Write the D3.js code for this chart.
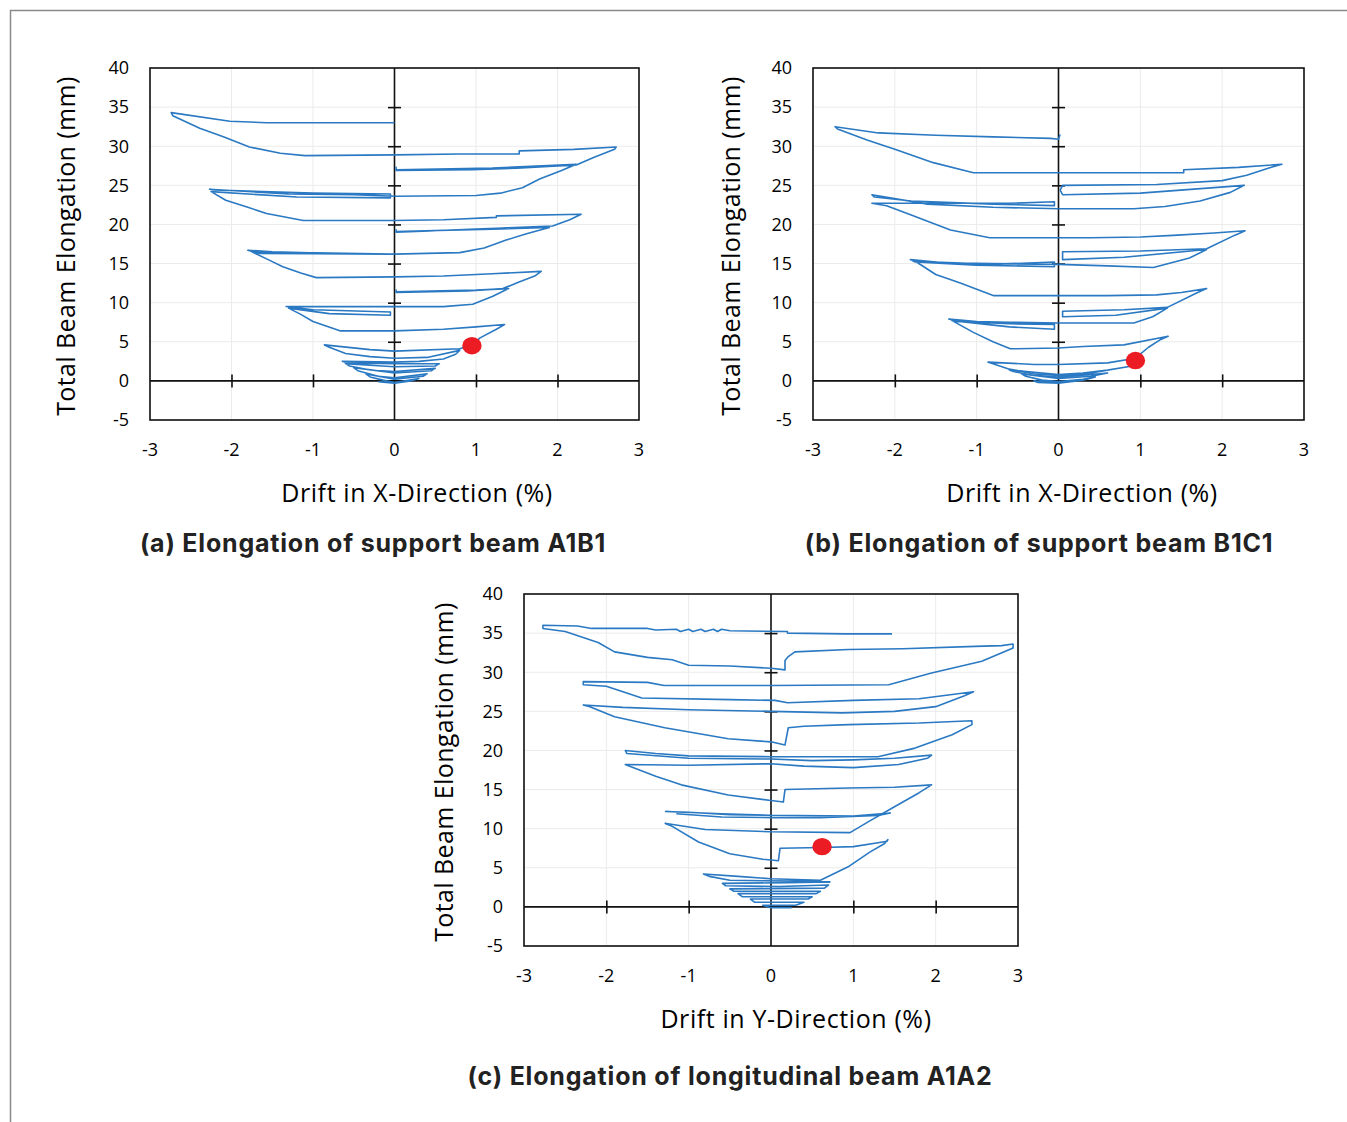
<!DOCTYPE html>
<html>
<head>
<meta charset="utf-8">
<script src="https://cdn.jsdelivr.net/npm/d3@7"></script>
<style>
  body { margin: 0; background: #fff; }
  svg { display: block; }
</style>
</head>
<body>
<div id="chart"></div>
<script>
// axis ticks shared by all three panels
var xTicks = [-3, -2, -1, 0, 1, 2, 3];
var yTicks = [-5, 0, 5, 10, 15, 20, 25, 30, 35, 40];

// (a) beam A1B1, drift [%] vs elongation [mm], traced as polylines
var beamA1B1 = [
  [[0,33.0],[-0.8,33.0],[-1.57,33.0],[-2.02,33.2],[-2.74,34.3],[-2.72,33.9],[-2.39,32.3],[-2.1,31.2],[-1.78,29.9],[-1.4,29.1],[-1.10,28.8],[0,28.9],
   [0.8,29.0],[1.53,29.0],[1.53,29.4],[2.2,29.6],[2.72,29.9],[2.70,29.6],[2.45,28.6],[2.23,27.6],[1.5,27.2],[0.96,27.0],[0.02,26.9],[0.02,27.3],[0.02,27.0],
   [1.2,27.2],[2.23,27.7],[2.05,26.9],[1.78,25.8],[1.57,24.7],[1.3,24.0],[1.0,23.7],[0,23.6]],
  [[0,23.6],[-0.5,23.8],[-1.3,23.9],[-2.27,24.5],[-2.20,24.4],[-1.0,24.0],[-0.05,23.9],[-0.05,23.4],[-1.2,23.5],[-2.25,24.2],[-2.07,23.1],[-1.8,22.2],[-1.57,21.4],[-1.12,20.5],[0,20.5],
   [0.6,20.6],[1.25,20.9],[1.25,21.1],[2.29,21.3],[2.15,20.6],[1.94,19.8],[1.0,19.4],[0.02,19.0],[0.02,19.3],[0.02,19.1],
   [1.2,19.4],[1.9,19.6],[1.62,18.8],[1.37,18.0],[1.1,17.0],[0.80,16.4],[0,16.2]],
  [[0,16.2],[-0.8,16.3],[-1.5,16.5],[-1.80,16.7],[-1.65,16.3],[-1.0,16.25],[-0.05,16.2],[-1.75,16.5],[-1.55,15.5],[-1.37,14.6],[-1.15,13.8],[-0.96,13.2],[0,13.3],
   [0.6,13.4],[1.2,13.7],[1.80,14.0],[1.72,13.4],[1.52,12.6],[1.33,11.8],[0.9,11.5],[0.02,11.3],[0.02,11.6],[0.02,11.4],
   [1.0,11.6],[1.4,11.8],[1.2,10.8],[0.96,9.8],[0.6,9.5],[0,9.5]],
  [[0,9.5],[-0.8,9.5],[-1.33,9.5],[-1.0,9.1],[-0.05,8.8],[-0.05,8.4],[-0.8,8.6],[-1.30,9.3],[-1.15,8.5],[-1.0,7.6],[-0.67,6.4],[0,6.4],
   [0.6,6.6],[1.0,6.9],[1.35,7.2],[1.25,6.6],[1.05,5.5],[0.95,4.6],[0.80,4.1],[0,3.8],
   [-0.3,4.0],[-0.86,4.6],[-0.8,4.3],[-0.6,3.5],[-0.3,3.1],[0,2.9],
   [0.4,3.0],[0.8,3.9],[0.75,3.4],[0.6,2.8],[0.3,2.5],[0,2.4]],
  [[0,2.4],[-0.64,2.5],[-0.6,2.3],[0,2.2],[0.55,2.2],[0.5,1.9],[0,1.8],[-0.6,2.2],[-0.55,1.9],[-0.3,1.4],[0,1.2],[0.5,1.6],[0.45,1.3],[0,1.0],
   [-0.5,1.7],[-0.45,1.3],[-0.2,0.6],[0,0.4],[0.4,0.9],[0.35,0.6],[0,0.2],[-0.35,0.9],[-0.3,0.5],[-0.1,0],[0,-0.2],[0.3,0.3],[0.2,0],[0,-0.3],[-0.2,-0.1]]
];

// (b) beam B1C1
var beamB1C1 = [
  [[0.02,31.5],[0,30.9],[-0.1,31.0],[-0.8,31.2],[-1.5,31.4],[-2.2,31.7],[-2.73,32.5],[-2.70,32.2],[-2.34,30.8],[-2.0,29.6],[-1.53,27.9],[-1.04,26.6],[0,26.6],
   [0.8,26.6],[1.53,26.6],[1.53,27.0],[2.2,27.3],[2.73,27.7],[2.6,27.3],[2.3,26.3],[2.0,25.6],[1.2,25.1],[0.05,25.0],[0.02,24.4],[0.05,23.8],
   [1.0,24.0],[2.27,25.0],[2.1,24.1],[1.73,23.0],[1.3,22.3],[0.92,22.0],[0,22.0]],
  [[0,22.0],[-0.8,22.2],[-1.6,22.6],[-2.28,23.8],[-2.25,23.5],[-1.8,23.0],[-0.8,22.6],[-0.05,22.4],[-0.05,22.9],[-0.6,22.7],[-1.4,22.7],[-2.28,22.7],[-2.1,22.4],[-1.8,21.2],[-1.32,19.3],[-0.84,18.3],[0,18.3],
   [0.4,18.3],[1.0,18.4],[1.4,18.6],[1.9,18.9],[2.28,19.2],[2.15,18.6],[1.81,16.9],[1.0,16.6],[0.05,16.5],[0.05,15.5],[0.8,15.8],[1.81,16.8],[1.6,15.7],[1.16,14.5],[0.6,14.7],[0,14.9]],
  [[0,14.9],[-0.8,15.0],[-1.4,15.1],[-1.81,15.5],[-1.75,15.2],[-1.0,14.8],[-0.05,14.6],[-0.05,15.2],[-0.8,14.9],[-1.75,15.3],[-1.5,13.6],[-1.20,12.5],[-0.79,10.9],[0,10.9],
   [0.6,10.9],[1.2,11.0],[1.5,11.3],[1.81,11.8],[1.7,11.3],[1.33,9.4],[0.8,9.1],[0.05,8.9],[0.05,8.2],[0.7,8.4],[1.33,9.3],[1.15,8.2],[0.92,7.4],[0,7.4]],
  [[0,7.4],[-0.6,7.5],[-1.0,7.6],[-1.34,7.9],[-1.25,7.6],[-0.6,7.3],[-0.05,7.2],[-0.05,6.6],[-0.6,6.9],[-1.3,7.7],[-1.04,6.2],[-0.8,5.0],[-0.59,4.1],[0,4.2],
   [0.3,4.4],[0.8,4.6],[1.34,5.7],[1.25,5.3],[1.1,4.3],[0.94,2.9],[0.6,2.3],[0,2.1],
   [-0.3,2.1],[-0.86,2.4],[-0.8,2.2],[-0.6,1.5],[-0.3,0.9],[0,0.7]],
  [[0,0.7],[0.4,1.0],[0.9,1.9],[0.6,1.4],[0.3,1.0],[0,0.8],[-0.6,1.4],[-0.55,1.2],[-0.3,0.7],[0,0.5],[0.5,0.9],[0.6,1.0],[0.4,0.6],[0,0.3],
   [-0.45,0.9],[-0.4,0.6],[-0.2,0.1],[0,-0.1],[0.3,0.2],[0.45,0.5],[0.3,0.1],[0,-0.3],[-0.3,0],[-0.25,-0.2],[0,-0.3],[0.15,-0.1]]
];

// (c) beam A1A2, Y-direction drift
var beamA1A2 = [
  [[1.47,34.9],[0.9,34.9],[0.2,35.0],[0.2,35.2],[-0.5,35.3],[-0.6,35.5],[-0.65,35.2],[-0.7,35.5],[-0.8,35.2],[-0.85,35.5],[-0.95,35.2],[-1.0,35.5],[-1.1,35.2],[-1.15,35.5],[-1.4,35.4],[-1.5,35.6],
   [-2.18,35.6],[-2.35,35.9],[-2.77,36.0],[-2.77,35.6],[-2.5,35.2],[-2.1,33.8],[-1.90,32.6],[-1.5,31.9],[-1.2,31.6],[-1.0,30.9],[-0.5,30.8],[0,30.5],[0.17,30.3],
   [0.17,31.5],[0.21,32.0],[0.29,32.6],[0.94,32.9],[1.6,33.0],[2.48,33.3],[2.8,33.4],[2.94,33.6],[2.94,33.1],[2.56,31.4],[1.95,29.9],[1.43,28.4],[0,28.3],
   [-0.9,28.3],[-1.3,28.3],[-1.5,28.7],[-2.28,28.8],[-2.28,28.4],[-2.0,28.2],[-1.57,26.7],[-0.5,26.5],[0.05,26.4],[0.2,26.1],[1.0,26.4],[1.8,26.6],[2.46,27.5],
   [2.35,27.0],[2.0,25.6],[1.5,25.0],[0.86,24.8],[0,25.0],[-1.0,25.2],[-1.8,25.5],[-2.28,25.8],[-2.2,25.6],[-1.9,24.3],[-1.29,22.9],[-0.52,21.5],[0,21.1],[0.17,20.7],
   [0.21,22.9],[0.4,23.1],[0.94,23.3],[1.8,23.5],[2.44,23.8],[2.44,23.3],[2.2,22.0],[1.75,20.3],[1.30,19.2],[0,19.2]],
  [[0,19.2],[-1.0,19.3],[-1.4,19.6],[-1.77,20.0],[-1.75,19.6],[-1.0,19.0],[0,18.9],[0.5,18.7],[1.0,18.8],[1.5,19.0],[1.95,19.4],[1.9,19.0],[1.55,18.2],[1.0,17.8],[0.4,18.0],[0,18.3],
   [-1.0,18.1],[-1.77,18.2],[-1.7,17.9],[-1.4,16.7],[-1.09,15.6],[-0.52,14.3],[0,13.6],[0.15,13.4],[0.17,15.0],[0.94,15.2],[1.5,15.3],[1.95,15.6],
   [1.8,14.6],[1.5,12.8],[1.2,11.0],[0.96,9.5],[0,9.6],[-0.8,9.9],[-1.29,10.7]],
  [[0,11.7],[-0.6,11.9],[-1.28,12.2],[-1.0,12.1],[-0.5,11.8],[0,11.7],[1.0,11.6],[1.45,12.0],[1.3,11.7],[0.6,11.4],[0.05,11.4],[-0.6,11.5],[-1.15,11.9]],
  [[-1.29,10.7],[-1.2,10.3],[-0.88,8.3],[-0.5,6.8],[-0.1,6.1],[0,6.0],[0.09,5.9],[0.11,7.5],[0.62,7.6],[1.0,7.7],[1.3,8.2],[1.41,8.4],[1.42,8.6],[1.38,8.1],
   [1.2,7.0],[0.95,5.2],[0.6,3.4],[0,3.6],[-0.4,3.9],[-0.82,4.2],[-0.75,3.9],[-0.5,3.4],[0.3,3.3],[0.72,3.2]],
  [[0.72,3.2],[0.2,3.1],[-0.59,3.0],[-0.55,2.7],[0.1,2.6],[0.7,2.8],[0.65,2.4],[-0.5,2.3],[-0.45,2.0],[0.6,2.0],[0.55,1.7],[-0.4,1.7],[-0.35,1.3],
   [0.5,1.3],[0.45,1.0],[-0.25,1.0],[-0.2,0.6],[0.4,0.6],[0.3,0.2],[-0.1,0.2],[0,-0.1],[0.25,-0.1]]
];

// red markers (drift, elongation)
var markA1B1 = [0.95, 4.5];
var markB1C1 = [0.94, 2.6];
var markA1A2 = [0.62, 7.7];

var blue = "#2a79c2";

var svg = d3.select("#chart").append("svg")
  .attr("width", 1347)
  .attr("height", 1122);

// outer frame (top and left edges only)
svg.append("path")
  .attr("d", "M10.5,1122 L10.5,10.5 L1347,10.5")
  .attr("fill", "none")
  .attr("stroke", "#8a8a8a")
  .attr("stroke-width", 1.5);

function drawPanel(cfg) {
  var x = d3.scaleLinear().domain([-3, 3]).range([cfg.left, cfg.right]);
  var y = d3.scaleLinear().domain([-5, 40]).range([cfg.bottom, cfg.top]);
  var g = svg.append("g");

  // grid
  g.selectAll(".gx").data(xTicks).enter().append("line")
    .attr("x1", function(d) { return x(d); }).attr("x2", function(d) { return x(d); })
    .attr("y1", cfg.top).attr("y2", cfg.bottom)
    .attr("stroke", "#ebebeb").attr("stroke-width", 1);
  g.selectAll(".gy").data(yTicks).enter().append("line")
    .attr("x1", cfg.left).attr("x2", cfg.right)
    .attr("y1", function(d) { return y(d); }).attr("y2", function(d) { return y(d); })
    .attr("stroke", "#ebebeb").attr("stroke-width", 1);

  // zero axes with cross ticks
  var xAxis = d3.axisBottom(x).tickValues(xTicks.filter(function(d) { return d > -3 && d < 3 && d !== 0; }))
    .tickSizeInner(13).tickSizeOuter(0).tickFormat("");
  g.append("g")
    .attr("transform", "translate(0," + (y(0) - 6.5) + ")")
    .call(xAxis)
    .call(function(s) { s.select(".domain").remove(); s.selectAll("line").attr("stroke", "#111").attr("stroke-width", 1.6); });
  var yAxis = d3.axisLeft(y).tickValues(yTicks.filter(function(d) { return d > 0 && d < 40; }))
    .tickSizeInner(13).tickSizeOuter(0).tickFormat("");
  g.append("g")
    .attr("transform", "translate(" + (x(0) + 6.5) + ",0)")
    .call(yAxis)
    .call(function(s) { s.select(".domain").remove(); s.selectAll("line").attr("stroke", "#111").attr("stroke-width", 1.6); });

  g.append("line").attr("x1", cfg.left).attr("x2", cfg.right)
    .attr("y1", y(0)).attr("y2", y(0)).attr("stroke", "#111").attr("stroke-width", 1.6);
  g.append("line").attr("x1", x(0)).attr("x2", x(0))
    .attr("y1", cfg.top).attr("y2", cfg.bottom).attr("stroke", "#111").attr("stroke-width", 1.6);

  // data
  var line = d3.line()
    .x(function(d) { return x(d[0]); })
    .y(function(d) { return y(d[1]); });
  g.selectAll(".trace").data(cfg.data).enter().append("path")
    .attr("class", "trace")
    .attr("d", line)
    .attr("fill", "none")
    .attr("stroke", blue)
    .attr("stroke-width", 1.6)
    .attr("stroke-linejoin", "round");

  g.append("ellipse")
    .attr("cx", x(cfg.mark[0])).attr("cy", y(cfg.mark[1]))
    .attr("rx", 9.7).attr("ry", 8.7)
    .attr("fill", "#ec1c24");

  // frame
  g.append("rect")
    .attr("x", cfg.left).attr("y", cfg.top)
    .attr("width", cfg.right - cfg.left).attr("height", cfg.bottom - cfg.top)
    .attr("fill", "none").attr("stroke", "#111").attr("stroke-width", 1.6);

  // tick labels
  g.selectAll(".yl").data(yTicks).enter().append("text")
    .attr("x", cfg.left - 21).attr("y", function(d) { return y(d); })
    .attr("dy", "0.35em")
    .attr("text-anchor", "end")
    .style("font-family", "Open Sans")
    .style("font-size", "18px")
    .text(function(d) { return d; });
  g.selectAll(".xl").data(xTicks).enter().append("text")
    .attr("x", function(d) { return x(d); }).attr("y", cfg.bottom + 30)
    .attr("dy", "0.35em")
    .attr("text-anchor", "middle")
    .style("font-family", "Open Sans")
    .style("font-size", "18px")
    .text(function(d) { return d; });

  // titles
  g.append("text")
    .attr("transform", "translate(" + cfg.yTitleX + "," + ((cfg.top + cfg.bottom) / 2 + 2) + ") rotate(-90)")
    .attr("text-anchor", "middle")
    .attr("dy", "0.35em")
    .style("font-family", "Open Sans")
    .style("font-size", "25px")
    .style("letter-spacing", "0.4px")
    .text("Total Beam Elongation (mm)");
  g.append("text")
    .attr("x", cfg.xTitleX).attr("y", cfg.bottom + 73)
    .attr("dy", "0.35em")
    .attr("text-anchor", "middle")
    .style("font-family", "Open Sans")
    .style("font-size", "25px")
    .style("letter-spacing", "0.6px")
    .text(cfg.xTitle);
  g.append("text")
    .attr("x", cfg.captionX).attr("y", cfg.bottom + cfg.captionGap)
    .attr("dy", "0.35em")
    .attr("text-anchor", "middle")
    .style("font-family", "Inter")
    .style("font-weight", "700")
    .style("font-size", "25px")
    .style("letter-spacing", "0.8px")
    .style("fill", "#222")
    .text(cfg.caption);
}

drawPanel({ left: 150, right: 639, top: 68, bottom: 420, data: beamA1B1, mark: markA1B1,
  yTitleX: 66, xTitleX: 417, captionX: 373, captionGap: 123,
  xTitle: "Drift in X-Direction (%)", caption: "(a) Elongation of support beam A1B1" });
drawPanel({ left: 813, right: 1304, top: 68, bottom: 420, data: beamB1C1, mark: markB1C1,
  yTitleX: 731, xTitleX: 1082, captionX: 1039, captionGap: 123,
  xTitle: "Drift in X-Direction (%)", caption: "(b) Elongation of support beam B1C1" });
drawPanel({ left: 524, right: 1018, top: 594, bottom: 946, data: beamA1A2, mark: markA1A2,
  yTitleX: 444, xTitleX: 796, captionX: 730, captionGap: 130,
  xTitle: "Drift in Y-Direction (%)", caption: "(c) Elongation of longitudinal beam A1A2" });
</script>
</body>
</html>
